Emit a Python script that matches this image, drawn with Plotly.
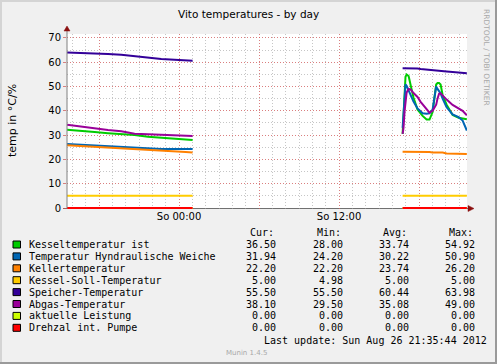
import plotly.graph_objects as go
from datetime import datetime, timedelta

# ---------------- data ----------------
MIDNIGHT = datetime(2012, 8, 26, 0, 0, 0)
RANGE_START = datetime(2012, 8, 25, 15, 35, 44)
RANGE_END = datetime(2012, 8, 26, 21, 35, 44)

# minutes relative to Sun 00:00
left_minutes = [-504, -440, -380, -320, -260, -200, -140, -80, -20, 30, 61]
right_minutes = [1006, 1010, 1015, 1019, 1024, 1033, 1042, 1055, 1073, 1087, 1096, 1114,
                 1127, 1141, 1150, 1157, 1163, 1170, 1177, 1186, 1204, 1231, 1258, 1276, 1295]

kessel_left = [32.2, 31.6, 31.3, 30.8, 30.5, 30.0, 29.3, 28.9, 28.7, 28.3, 28.0]
kessel_right = [30.5, 40, 51, 54, 54.9, 54.3, 50.6, 45.5, 40.5, 38.8, 37.9, 36.4, 36.4,
                39.5, 46, 50.8, 51.4, 51.4, 50.8, 46.5, 42.5, 38.3, 37.1, 36.9, 36.5]

weiche_left = [26.3, 26.0, 25.7, 25.3, 25.0, 24.6, 24.4, 24.3, 24.3, 24.3, 24.3]
weiche_right = [33, 40, 48, 50.9, 50.3, 48.5, 46.5, 43.8, 41, 39.6, 39, 38.8, 39,
                40.5, 45.5, 50, 49, 48, 47.2, 45, 41.5, 38.5, 37.4, 36, 31.9]

keller_left = [25.8, 25.5, 25.2, 24.9, 24.6, 24.3, 24.1, 23.8, 23.5, 23.0, 22.8]
keller_right = [23.2, 23.2, 23.2, 23.2, 23.2, 23.2, 23.2, 23.2, 23.2, 23.2, 23.2, 23.2, 23.0,
                22.8, 22.8, 22.8, 22.8, 22.8, 22.8, 22.8, 22.4, 22.3, 22.3, 22.2, 22.2]

soll_left = [5.0, 5.0, 5.0, 5.0, 5.0, 5.0, 5.0, 5.0, 5.0, 5.0, 5.0]
soll_right = [5.0, 5.0, 5.0, 5.0, 5.0, 5.0, 5.0, 5.0, 5.0, 5.0, 5.0, 5.0, 5.0,
              5.0, 5.0, 5.0, 5.0, 5.0, 5.0, 5.0, 5.0, 5.0, 5.0, 5.0, 5.0]

speicher_left = [64.0, 63.9, 63.7, 63.4, 63.1, 62.4, 61.9, 61.3, 61.0, 60.7, 60.6]
speicher_right = [57.5, 57.5, 57.6, 57.6, 57.7, 57.7, 57.7, 57.6, 57.4, 57.2, 57.1, 57.0, 56.8,
                  56.7, 56.6, 56.5, 56.5, 56.4, 56.3, 56.3, 56.2, 56.0, 55.8, 55.6, 55.5]

abgas_left = [34.3, 33.5, 33.0, 32.1, 31.6, 30.6, 30.4, 30.1, 30.0, 29.7, 29.6]
abgas_right = [30.5, 33, 40, 44, 47.5, 49, 48.8, 47.3, 45.7, 43.7, 42.6, 40.6, 39.2,
               40, 41.5, 42.5, 45, 47, 47.2, 46.2, 44.6, 42.4, 40.8, 40, 38.1]

leistung_left = [0, 0, 0, 0, 0, 0, 0, 0, 0, 0, 0]
leistung_right = [0, 0, 0, 0, 0, 0, 0, 0, 0, 0, 0, 0, 0, 0, 0, 0, 0, 0, 0, 0, 0, 0, 0, 0, 0]

pumpe_left = [0, 0, 0, 0, 0, 0, 0, 0, 0, 0, 0]
pumpe_right = [0, 0, 0, 0, 0, 0, 0, 0, 0, 0, 0, 0, 0, 0, 0, 0, 0, 0, 0, 0, 0, 0, 0, 0, 0]

series_names = ["Kesseltemperatur ist", "Temperatur Hyndraulische Weiche", "Kellertemperatur",
                "Kessel-Soll-Temperatur", "Speicher-Temperatur", "Abgas-Temperatur",
                "aktuelle Leistung", "Drehzal int. Pumpe"]
series_colors = ["#00CC00", "#0066B3", "#FF8000", "#FFCC00", "#330099", "#990099",
                 "#CCFF00", "#FF0000"]
series_left = [kessel_left, weiche_left, keller_left, soll_left, speicher_left, abgas_left,
               leistung_left, pumpe_left]
series_right = [kessel_right, weiche_right, keller_right, soll_right, speicher_right,
                abgas_right, leistung_right, pumpe_right]

cur_vals = ["36.50", "31.94", "22.20", "5.00", "55.50", "38.10", "0.00", "0.00"]
min_vals = ["28.00", "24.20", "22.20", "4.98", "55.50", "29.50", "0.00", "0.00"]
avg_vals = ["33.74", "30.22", "23.74", "5.00", "60.44", "35.08", "0.00", "0.00"]
max_vals = ["54.92", "50.90", "26.20", "5.00", "63.98", "49.00", "0.00", "0.00"]
col_headers = ["Cur:", "Min:", "Avg:", "Max:"]

y_ticks = [0, 10, 20, 30, 40, 50, 60, 70]
x_tick_hours = [-6, 0, 6, 12, 18]
x_tick_text = ["", "So 00:00", "", "So 12:00", ""]

# ---------------- geometry ----------------
W, H = 497, 364
ML, MR, MT, MB = 67, 30, 34, 155
PW = W - ML - MR
PH = H - MT - MB


def px(x):
    return (x - ML) / PW


def py(y):
    return (H - MB - y) / PH


SANS = "DejaVu Sans"
MONO = "DejaVu Sans Mono"

fig = go.Figure()

left_t = [MIDNIGHT + timedelta(minutes=m) for m in left_minutes]
right_t = [MIDNIGHT + timedelta(minutes=m) for m in right_minutes]
xs = left_t + [None] + right_t

for name, col, lv, rv in zip(series_names, series_colors, series_left, series_right):
    fig.add_trace(go.Scatter(
        x=xs, y=list(lv) + [None] + list(rv), mode="lines", name=name,
        line=dict(color=col, width=2), connectgaps=False, showlegend=False,
        hoverinfo="skip"))

shapes = []
annotations = []

# frame
shapes.append(dict(type="rect", xref="paper", yref="paper", x0=px(0), x1=px(W), y0=py(0), y1=py(2),
                   fillcolor="#d4d4d4", line=dict(width=0), layer="above"))
shapes.append(dict(type="rect", xref="paper", yref="paper", x0=px(0), x1=px(2), y0=py(0), y1=py(H),
                   fillcolor="#d4d4d4", line=dict(width=0), layer="above"))
shapes.append(dict(type="rect", xref="paper", yref="paper", x0=px(W - 2), x1=px(W), y0=py(0), y1=py(H),
                   fillcolor="#9a9a9a", line=dict(width=0), layer="above"))
shapes.append(dict(type="rect", xref="paper", yref="paper", x0=px(0), x1=px(W), y0=py(H - 2), y1=py(H),
                   fillcolor="#9a9a9a", line=dict(width=0), layer="above"))

# axes with arrows
shapes.append(dict(type="line", xref="paper", yref="paper", x0=px(67), x1=px(67), y0=py(208.5), y1=py(29),
                   line=dict(color="#808080", width=1), layer="above"))
shapes.append(dict(type="line", xref="paper", yref="paper", x0=px(63), x1=px(469), y0=py(208.5), y1=py(208.5),
                   line=dict(color="#707070", width=1), layer="below"))
shapes.append(dict(type="path", xref="paper", yref="paper",
                   path="M %f,%f L %f,%f L %f,%f Z" % (px(64), py(31), px(70), py(31), px(67), py(26)),
                   fillcolor="#8b1010", line=dict(color="#8b1010", width=0.5), layer="above"))
shapes.append(dict(type="path", xref="paper", yref="paper",
                   path="M %f,%f L %f,%f L %f,%f Z" % (px(468), py(205.5), px(468), py(211.5), px(474), py(208.5)),
                   fillcolor="#8b1010", line=dict(color="#8b1010", width=0.5), layer="above"))

# title
annotations.append(dict(text="Vito temperatures - by day", xref="paper", yref="paper",
                        x=px(248.5), y=py(14), xanchor="center", yanchor="middle", showarrow=False,
                        font=dict(family=SANS, size=10.5, color="#000000")))
# y title
annotations.append(dict(text="temp in °C/%", xref="paper", yref="paper", x=px(12), y=py(120),
                        xanchor="center", yanchor="middle", textangle=-90, showarrow=False,
                        font=dict(family=SANS, size=11, color="#000000")))
# vertical watermark
annotations.append(dict(text="RRDTOOL / TOBI OETIKER", xref="paper", yref="paper", x=px(487), y=py(57),
                        xanchor="center", yanchor="middle", textangle=90, showarrow=False,
                        font=dict(family=SANS, size=7.5, color="#a8a8a8")))

# legend table
ROW0 = 244.5
DY = 11.9
col_left = [248.3, 314.5, 380.7, 446.9]
col_right = [c + 30.1 for c in col_left]
for j, hdr in enumerate(col_headers):
    annotations.append(dict(text=hdr, xref="paper", yref="paper", x=px(col_left[j]), y=py(ROW0 - DY),
                            xanchor="left", yanchor="middle", showarrow=False,
                            font=dict(family=MONO, size=10, color="#000000")))
for i, name in enumerate(series_names):
    yc = ROW0 + DY * i
    shapes.append(dict(type="rect", xref="paper", yref="paper", x0=px(13), x1=px(20.5),
                       y0=py(yc - 3.5), y1=py(yc + 3.5), fillcolor=series_colors[i],
                       line=dict(color="#000000", width=1), layer="above"))
    annotations.append(dict(text=name, xref="paper", yref="paper", x=px(27), y=py(yc),
                            xanchor="left", yanchor="middle", showarrow=False,
                            font=dict(family=MONO, size=10, color="#000000")))
    for j, vals in enumerate([cur_vals, min_vals, avg_vals, max_vals]):
        annotations.append(dict(text=vals[i], xref="paper", yref="paper", x=px(col_right[j]), y=py(yc),
                                xanchor="right", yanchor="middle", showarrow=False,
                                font=dict(family=MONO, size=10, color="#000000")))

annotations.append(dict(text="Last update: Sun Aug 26 21:35:44 2012", xref="paper", yref="paper",
                        x=px(261.7), y=py(340.5), xanchor="left", yanchor="middle", showarrow=False,
                        font=dict(family=MONO, size=10, color="#000000")))
annotations.append(dict(text="Munin 1.4.5", xref="paper", yref="paper", x=px(246), y=py(353),
                        xanchor="center", yanchor="middle", showarrow=False,
                        font=dict(family=SANS, size=7, color="#a8a8a8")))

fig.update_layout(
    width=W, height=H,
    margin=dict(l=ML, r=MR, t=MT, b=MB, pad=0),
    paper_bgcolor="#f0f0f0", plot_bgcolor="#ffffff",
    showlegend=False,
    shapes=shapes, annotations=annotations,
    xaxis=dict(
        type="date", range=[RANGE_START, RANGE_END],
        tickmode="array",
        tickvals=[MIDNIGHT + timedelta(hours=h) for h in x_tick_hours],
        ticktext=x_tick_text,
        showgrid=True, gridcolor="rgba(235,70,70,0.55)", griddash="1px,2px", gridwidth=1,
        minor=dict(tickmode="linear", tick0="2012-08-25 00:00:00", dtick=3600000,
                   showgrid=True, gridcolor="rgba(160,160,160,0.6)", griddash="1px,2px", gridwidth=1,
                   ticks=""),
        showline=False, zeroline=False, ticks="", ticklen=0,
        tickfont=dict(family=SANS, size=10, color="#000000"), fixedrange=True,
    ),
    yaxis=dict(
        range=[-0.4, 71.6], tickmode="array", tickvals=y_ticks,
        ticktext=[str(v) for v in y_ticks],
        showgrid=True, gridcolor="rgba(235,70,70,0.55)", griddash="1px,2px", gridwidth=1,
        minor=dict(tickmode="linear", tick0=0, dtick=5, showgrid=True,
                   gridcolor="rgba(160,160,160,0.6)", griddash="1px,2px", gridwidth=1, ticks=""),
        showline=False, zeroline=False, ticks="outside", ticklen=3, tickcolor="rgba(200,80,80,0.7)",
        tickfont=dict(family=SANS, size=10, color="#000000"), fixedrange=True,
    ),
)

fig.write_html("out.html", config={"displayModeBar": False},
               post_script="document.body.style.margin='0';document.body.style.padding='0';")
